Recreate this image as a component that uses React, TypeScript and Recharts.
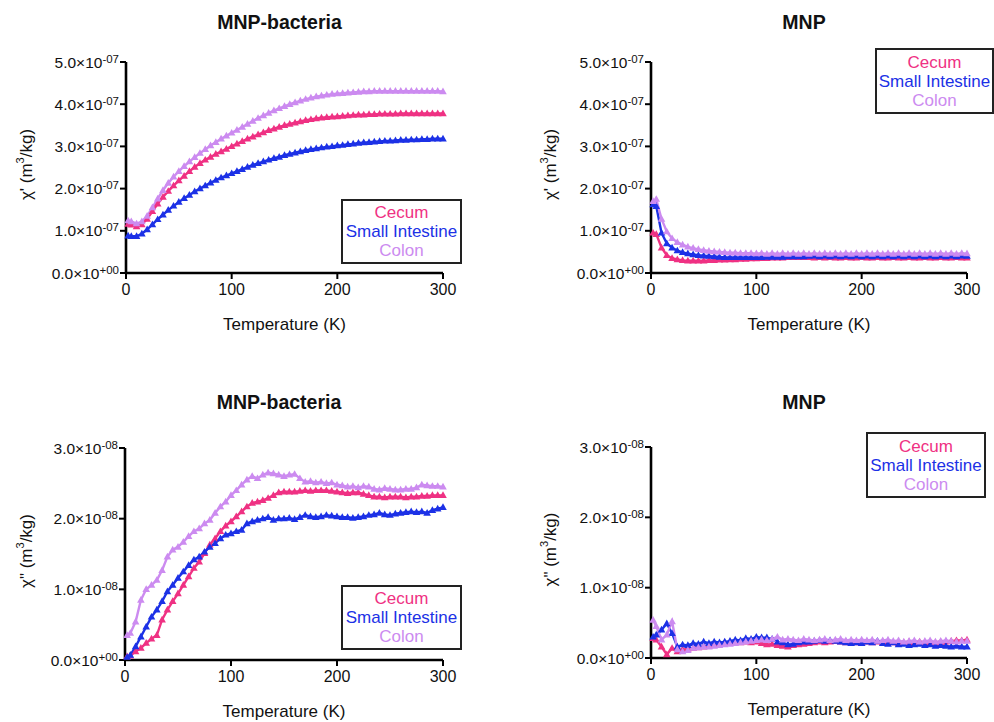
import React from "react";
import { LineChart, Line, XAxis, YAxis } from "recharts";

// temperature (K)
const temps = [
  2, 5, 10, 15, 20, 25, 30, 35, 40, 45, 50, 55, 60, 65, 70, 75, 80, 85, 90, 95, 100,
  105, 110, 115, 120, 125, 130, 135, 140, 145, 150, 155, 160, 165, 170, 175, 180, 185, 190, 195, 200,
  205, 210, 215, 220, 225, 230, 235, 240, 245, 250, 255, 260, 265, 270, 275, 280, 285, 290, 295, 300,
];

// chi' MNP-bacteria, x1e-7 m3/kg
const bactRealCecum = [
  1.16, 1.14, 1.1, 1.15, 1.28, 1.46, 1.64, 1.8, 1.94, 2.07, 2.19, 2.3, 2.41, 2.51, 2.6, 2.68, 2.75, 2.82, 2.88, 2.94, 3.0,
  3.06, 3.12, 3.18, 3.23, 3.28, 3.33, 3.38, 3.42, 3.46, 3.5, 3.53, 3.56, 3.59, 3.62, 3.64, 3.66, 3.68, 3.69, 3.7, 3.71,
  3.72, 3.73, 3.74, 3.75, 3.75, 3.76, 3.76, 3.77, 3.77, 3.77, 3.77, 3.78, 3.78, 3.78, 3.78, 3.78, 3.78, 3.78, 3.78, 3.78,
];
const bactRealSmall = [
  0.88, 0.87, 0.87, 0.93, 1.03, 1.15, 1.27, 1.38, 1.49, 1.59, 1.68, 1.77, 1.85, 1.93, 2.0, 2.07, 2.14, 2.2, 2.26, 2.31, 2.36,
  2.41, 2.46, 2.51, 2.56, 2.6, 2.64, 2.68, 2.72, 2.75, 2.79, 2.82, 2.85, 2.88, 2.91, 2.93, 2.95, 2.97, 2.99, 3.0, 3.02,
  3.03, 3.05, 3.06, 3.08, 3.09, 3.1, 3.11, 3.12, 3.13, 3.13, 3.14, 3.15, 3.15, 3.16, 3.16, 3.17, 3.17, 3.18, 3.18, 3.18,
];
const bactRealColon = [
  1.24, 1.22, 1.17, 1.22, 1.35, 1.55, 1.76, 1.96, 2.13, 2.28, 2.41, 2.53, 2.64, 2.74, 2.84, 2.93, 3.02, 3.1, 3.18, 3.25, 3.32,
  3.39, 3.46, 3.53, 3.6, 3.67, 3.73, 3.79, 3.85, 3.9, 3.95, 4.0, 4.04, 4.08, 4.12, 4.15, 4.18, 4.2, 4.22, 4.24, 4.25,
  4.26, 4.27, 4.28, 4.29, 4.3, 4.3, 4.31, 4.31, 4.31, 4.31, 4.31, 4.31, 4.31, 4.31, 4.31, 4.31, 4.31, 4.31, 4.31, 4.3,
];

// chi' MNP, x1e-7 m3/kg
const mnpRealCecum = [
  0.95, 0.92, 0.6, 0.42, 0.35, 0.32, 0.3, 0.29, 0.29, 0.29, 0.29, 0.3, 0.3, 0.31, 0.31, 0.32, 0.32, 0.33, 0.33, 0.34, 0.34,
  0.35, 0.35, 0.36, 0.36, 0.36, 0.37, 0.37, 0.37, 0.37, 0.37, 0.36, 0.37, 0.36, 0.37, 0.36, 0.36, 0.37, 0.36, 0.36, 0.37,
  0.36, 0.36, 0.37, 0.36, 0.36, 0.37, 0.36, 0.36, 0.37, 0.36, 0.36, 0.37, 0.36, 0.36, 0.37, 0.36, 0.36, 0.37, 0.36, 0.36,
];
const mnpRealSmall = [
  1.62, 1.58, 0.95, 0.7, 0.6, 0.53, 0.49, 0.46, 0.44, 0.42, 0.41, 0.4, 0.39, 0.38, 0.37, 0.37, 0.37, 0.37, 0.37, 0.37, 0.37,
  0.37, 0.38, 0.38, 0.38, 0.38, 0.39, 0.39, 0.39, 0.39, 0.4, 0.41, 0.39, 0.41, 0.39, 0.41, 0.39, 0.41, 0.39, 0.41, 0.39,
  0.41, 0.39, 0.41, 0.39, 0.41, 0.39, 0.41, 0.39, 0.41, 0.39, 0.41, 0.39, 0.41, 0.39, 0.41, 0.39, 0.41, 0.39, 0.41, 0.4,
];
const mnpRealColon = [
  1.7, 1.75, 1.28, 0.98, 0.82, 0.73, 0.67, 0.62, 0.59, 0.56, 0.54, 0.52, 0.51, 0.5, 0.49, 0.48, 0.48, 0.47, 0.47, 0.47, 0.46,
  0.47, 0.45, 0.47, 0.45, 0.47, 0.45, 0.47, 0.45, 0.47, 0.45, 0.47, 0.45, 0.47, 0.45, 0.47, 0.45, 0.47, 0.45, 0.47, 0.45,
  0.47, 0.45, 0.47, 0.45, 0.47, 0.45, 0.47, 0.45, 0.47, 0.45, 0.47, 0.45, 0.47, 0.45, 0.47, 0.45, 0.47, 0.45, 0.47, 0.46,
];

// chi'' MNP-bacteria, x1e-8 m3/kg
const bactImagCecum = [
  0.05, 0.06, 0.12, 0.17, 0.24, 0.3, 0.35, 0.57, 0.71, 0.83, 0.94, 1.06, 1.18, 1.3, 1.39, 1.51, 1.63, 1.72, 1.82, 1.9, 1.96,
  2.03, 2.1, 2.17, 2.22, 2.24, 2.26, 2.29, 2.33, 2.37, 2.38, 2.38, 2.38, 2.39, 2.4, 2.39, 2.4, 2.4, 2.4, 2.39, 2.38,
  2.37, 2.36, 2.37, 2.37, 2.35, 2.33, 2.31, 2.31, 2.3, 2.31, 2.31, 2.31, 2.3, 2.31, 2.31, 2.32, 2.32, 2.33, 2.33, 2.33,
];
const bactImagSmall = [
  0.04, 0.07, 0.19, 0.33, 0.47, 0.61, 0.71, 0.83, 0.97, 1.06, 1.16, 1.25, 1.34, 1.42, 1.46, 1.53, 1.6, 1.65, 1.72, 1.77, 1.79,
  1.82, 1.84, 1.93, 1.96, 1.98, 2.0, 2.02, 1.98, 2.0, 2.0, 2.01, 1.99, 2.02, 2.05, 2.03, 2.02, 2.03, 2.05, 2.04, 2.03,
  2.02, 2.02, 2.01, 2.02, 2.03, 2.05, 2.06, 2.08, 2.06, 2.05, 2.07, 2.08, 2.09, 2.1, 2.09, 2.1, 2.08, 2.12, 2.14, 2.16,
];
const bactImagColon = [
  0.35, 0.38, 0.54, 0.85, 1.0, 1.06, 1.13, 1.27, 1.46, 1.56, 1.6, 1.67, 1.75, 1.82, 1.86, 1.93, 1.98, 2.08, 2.17, 2.24, 2.33,
  2.4, 2.48, 2.55, 2.6, 2.57, 2.62, 2.65, 2.64, 2.62, 2.6, 2.62, 2.63, 2.57, 2.52, 2.53, 2.51, 2.52, 2.5, 2.51, 2.48,
  2.47, 2.45, 2.46, 2.44, 2.46, 2.45, 2.42, 2.41, 2.43, 2.42, 2.41, 2.41, 2.42, 2.42, 2.44, 2.48, 2.47, 2.46, 2.46, 2.45,
];

// chi'' MNP, x1e-8 m3/kg
const mnpImagCecum = [
  0.28, 0.26, 0.16, 0.05, 0.14, 0.09, 0.12, 0.13, 0.14, 0.15, 0.16, 0.17, 0.18, 0.2, 0.22, 0.23, 0.23, 0.22, 0.23, 0.22, 0.23,
  0.21, 0.19, 0.2, 0.18, 0.17, 0.16, 0.18, 0.19, 0.2, 0.21, 0.22, 0.23, 0.22, 0.23, 0.24, 0.23, 0.22, 0.23, 0.22, 0.21,
  0.23, 0.22, 0.23, 0.22, 0.23, 0.22, 0.21, 0.22, 0.23, 0.22, 0.23, 0.22, 0.23, 0.22, 0.23, 0.23, 0.24, 0.25, 0.25, 0.26,
];
const mnpImagSmall = [
  0.3, 0.33, 0.4, 0.49, 0.35, 0.16, 0.19, 0.18, 0.21, 0.2, 0.23, 0.21, 0.23, 0.22, 0.23, 0.24, 0.26, 0.25, 0.28, 0.27, 0.3,
  0.29, 0.29, 0.27, 0.23, 0.22, 0.19, 0.2, 0.22, 0.23, 0.23, 0.24, 0.25, 0.24, 0.25, 0.24, 0.23, 0.22, 0.21, 0.22, 0.21,
  0.23, 0.22, 0.24, 0.21, 0.2, 0.22, 0.19, 0.2, 0.18, 0.19, 0.2, 0.18, 0.19, 0.17, 0.18, 0.17, 0.16, 0.17, 0.16, 0.16,
];
const mnpImagColon = [
  0.54, 0.45, 0.26, 0.33, 0.52, 0.12, 0.09, 0.11, 0.14, 0.15, 0.16, 0.16, 0.17, 0.18, 0.19, 0.2, 0.21, 0.22, 0.23, 0.24, 0.25,
  0.26, 0.25, 0.27, 0.3, 0.26, 0.27, 0.26, 0.25, 0.27, 0.26, 0.25, 0.26, 0.27, 0.25, 0.26, 0.27, 0.25, 0.26, 0.25, 0.26,
  0.25, 0.26, 0.24, 0.25, 0.26, 0.24, 0.25, 0.23, 0.24, 0.25, 0.23, 0.24, 0.25, 0.23, 0.24, 0.25, 0.24, 0.23, 0.24, 0.24,
];

const realTicks = [0, 1, 2, 3, 4, 5];
const imagTicks = [0, 1, 2, 3];
const tempTicks = [0, 100, 200, 300];
const seriesNames = ["Cecum", "Small Intestine", "Colon"];

const COLORS = ["#EF3183", "#1C31E6", "#CC8BF0"];
const FONT = '"Liberation Sans", Arial, Helvetica, sans-serif';

function buildRows(unit: number, a: number[], b: number[], c: number[]) {
  return temps.map((t, i) => ({ t, cecum: a[i] * unit, small: b[i] * unit, colon: c[i] * unit }));
}

const triangle = (color: string) => (props: any) => {
  const { cx, cy, index } = props;
  if (cx == null || cy == null) return <g key={`n${index}`} />;
  return (
    <path
      key={`d${index}`}
      d={`M${cx},${cy - 4}L${cx + 3.8},${cy + 2.7}L${cx - 3.8},${cy + 2.7}Z`}
      fill={color}
    />
  );
};

type PanelProps = {
  left: number;
  top: number;
  width: number;
  height: number;
  plotL: number;
  plotT: number;
  plotR: number;
  plotB: number;
  rows: any[];
  unit: number;
  ticks: number[];
  exp: string;
  prime: string;
  title: string;
  yLabelOffset: number;
  legendBox: { x: number; y: number; w: number; h: number };
};

function Panel(p: PanelProps) {
  const yTick = (props: any) => {
    const { x, y, payload } = props;
    const v = Math.round(payload.value / p.unit);
    return (
      <text x={x} y={y} textAnchor="end" fontSize={15.5} fontFamily={FONT} fill="#111">
        <tspan dy={5.5}>{`${v.toFixed(1)}×10`}</tspan>
        <tspan dy={-5} fontSize={11.5}>{v === 0 ? "+00" : p.exp}</tspan>
      </text>
    );
  };
  const plotCx = (p.plotL + p.plotR) / 2;
  return (
    <div style={{ position: "absolute", left: p.left, top: p.top, width: p.width, height: p.height }}>
      <LineChart
        width={p.width}
        height={p.height}
        data={p.rows}
        margin={{
          top: p.plotT - p.top,
          right: p.left + p.width - p.plotR,
          bottom: p.top + p.height - p.plotB - 30,
          left: 0,
        }}
      >
        <XAxis
          dataKey="t"
          type="number"
          domain={[0, 300]}
          ticks={tempTicks}
          interval={0}
          height={30}
          tickSize={6}
          tickMargin={5}
          axisLine={{ stroke: "#000", strokeWidth: 2.6 }}
          tickLine={{ stroke: "#000", strokeWidth: 2 }}
          tick={{ fontSize: 16, fill: "#111", fontFamily: FONT }}
          label={{
            content: (lp: any) => {
              const vb = lp.viewBox;
              return (
                <text
                  x={vb.x + vb.width / 2}
                  y={vb.y + 51}
                  textAnchor="middle"
                  dominantBaseline="central"
                  fontSize={17}
                  fontFamily={FONT}
                  fill="#111"
                >
                  Temperature (K)
                </text>
              );
            },
          }}
        />
        <YAxis
          type="number"
          domain={[0, p.ticks[p.ticks.length - 1] * p.unit]}
          ticks={p.ticks.map((v) => v * p.unit)}
          interval={0}
          width={p.plotL - p.left}
          tickSize={6}
          tickMargin={1}
          axisLine={{ stroke: "#000", strokeWidth: 2.6 }}
          tickLine={{ stroke: "#000", strokeWidth: 2 }}
          tick={yTick}
          label={{
            content: (lp: any) => {
              const vb = lp.viewBox;
              const cx = vb.x + p.yLabelOffset;
              const cy = vb.y + vb.height / 2 - 3;
              return (
                <text
                  transform={`translate(${cx},${cy}) rotate(-90)`}
                  textAnchor="middle"
                  dominantBaseline="central"
                  fontSize={17}
                  fontFamily={FONT}
                  fill="#111"
                >
                  {`χ${p.prime} (m`}
                  <tspan dy={-6} fontSize={11}>3</tspan>
                  <tspan dy={6}>/kg)</tspan>
                </text>
              );
            },
          }}
        />
        {["cecum", "small", "colon"].map((k, i) => (
          <Line
            key={k}
            dataKey={k}
            name={seriesNames[i]}
            stroke={COLORS[i]}
            strokeWidth={2.4}
            dot={triangle(COLORS[i])}
            activeDot={false}
            isAnimationActive={false}
          />
        ))}
      </LineChart>
      <div
        style={{
          position: "absolute",
          left: plotCx - p.left - 5 - 100,
          top: 22 - 12,
          width: 200,
          textAlign: "center",
          fontFamily: FONT,
          fontWeight: "bold",
          fontSize: 19.5,
          lineHeight: "24px",
          color: "#111",
        }}
      >
        {p.title}
      </div>
      <div
        style={{
          position: "absolute",
          left: p.legendBox.x - p.left,
          top: p.legendBox.y - p.top,
          width: p.legendBox.w,
          height: p.legendBox.h,
          boxSizing: "border-box",
          border: "2px solid #222",
          background: "#fff",
          display: "flex",
          flexDirection: "column",
          justifyContent: "center",
          alignItems: "center",
          fontFamily: FONT,
          fontSize: 17,
          lineHeight: "19px",
        }}
      >
        {seriesNames.map((n, i) => (
          <div key={n} style={{ color: COLORS[i], whiteSpace: "nowrap" }}>
            {n}
          </div>
        ))}
      </div>
    </div>
  );
}

export default function App() {
  const rowsA = buildRows(1e-7, bactRealCecum, bactRealSmall, bactRealColon);
  const rowsB = buildRows(1e-7, mnpRealCecum, mnpRealSmall, mnpRealColon);
  const rowsC = buildRows(1e-8, bactImagCecum, bactImagSmall, bactImagColon);
  const rowsD = buildRows(1e-8, mnpImagCecum, mnpImagSmall, mnpImagColon);
  return (
    <div style={{ position: "absolute", left: 0, top: 0, width: 994, height: 722, background: "#fff" }}>
      <Panel
        left={0}
        top={0}
        width={490}
        height={345}
        plotL={126}
        plotT={62}
        plotR={443}
        plotB={273}
        rows={rowsA}
        unit={1e-7}
        ticks={realTicks}
        exp="-07"
        prime="'"
        title="MNP-bacteria"
        yLabelOffset={26}
        legendBox={{ x: 341, y: 199, w: 121, h: 65 }}
      />
      <Panel
        left={500}
        top={0}
        width={494}
        height={345}
        plotL={651}
        plotT={62}
        plotR={967}
        plotB={273}
        rows={rowsB}
        unit={1e-7}
        ticks={realTicks}
        exp="-07"
        prime="'"
        title="MNP"
        yLabelOffset={50}
        legendBox={{ x: 875, y: 48, w: 119, h: 66 }}
      />
      <Panel
        left={0}
        top={380}
        width={490}
        height={342}
        plotL={125}
        plotT={448}
        plotR={443}
        plotB={660}
        rows={rowsC}
        unit={1e-8}
        ticks={imagTicks}
        exp="-08"
        prime={'"'}
        title="MNP-bacteria"
        yLabelOffset={26}
        legendBox={{ x: 341, y: 585, w: 121, h: 65 }}
      />
      <Panel
        left={500}
        top={380}
        width={494}
        height={342}
        plotL={651}
        plotT={447}
        plotR={967}
        plotB={658}
        rows={rowsD}
        unit={1e-8}
        ticks={imagTicks}
        exp="-08"
        prime={'"'}
        title="MNP"
        yLabelOffset={50}
        legendBox={{ x: 866, y: 432, w: 120, h: 66 }}
      />
    </div>
  );
}
